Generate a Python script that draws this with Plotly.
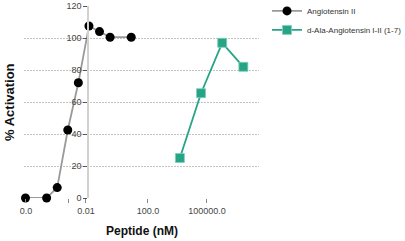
import plotly.graph_objects as go

ang2_x = [-5.0, -4.0, -3.5, -3.0, -2.5, -2.0, -1.5, -1.0, 0.0]
ang2_y = [0.0, 0.0, 6.5, 42.5, 72.0, 107.5, 104.0, 100.5, 100.5]
dala_x = [2.3, 3.3, 4.3, 5.3]
dala_y = [25.0, 65.5, 97.0, 82.0]

tick_vals = [-4.98, -2.95, -2.14, 0.79, 3.58]
tick_text = ["0.0", "", "0.01", "100.0", "100000.0"]
y_ticks = [0, 20, 40, 60, 80, 100, 120]

FONT = "Liberation Sans, Arial, sans-serif"

fig = go.Figure()
fig.add_trace(go.Scatter(
    x=ang2_x, y=ang2_y, mode="lines+markers", name="Angiotensin II",
    line=dict(color="#9a9a9a", width=1.8),
    marker=dict(color="black", size=9, symbol="circle", line=dict(width=0)),
    cliponaxis=False,
))
fig.add_trace(go.Scatter(
    x=dala_x, y=dala_y, mode="lines+markers", name="d-Ala-Angiotensin I-II (1-7)",
    line=dict(color="#27a386", width=1.8),
    marker=dict(color="#27a386", size=9, symbol="square", line=dict(width=0.8, color="#7fd0bb")),
    cliponaxis=False,
))

L, R = 24, 259
W = R - L
fig.update_layout(
    width=405, height=241,
    margin=dict(l=L, r=405 - R, t=6, b=43, autoexpand=False),
    paper_bgcolor="white", plot_bgcolor="white",
    font=dict(family=FONT, size=9, color="#333333"),
    showlegend=True,
    legend=dict(
        x=(267 - L) / W, y=1.05, xanchor="left", yanchor="top",
        font=dict(family=FONT, size=8, color="#333333"),
        bgcolor="rgba(0,0,0,0)", tracegroupgap=0, itemwidth=30,
    ),
    xaxis=dict(
        range=[-5.07, 6.04], showgrid=False, zeroline=False, showline=False,
        tickmode="array", tickvals=tick_vals, ticktext=tick_text,
        ticks="outside", ticklen=4, tickcolor="#888888", tickwidth=1,
        tickfont=dict(family=FONT, size=9, color="#444444"),
    ),
    yaxis=dict(
        range=[0, 120], anchor="free", position=(88 - L) / W,
        showgrid=True, gridcolor="#c4c4c4", griddash="2px,1px", gridwidth=0.8,
        zeroline=False, showline=True, linecolor="#d2d2d2", linewidth=1.5,
        tickmode="array", tickvals=y_ticks,
        ticks="outside", ticklen=4, tickcolor="#555555",
        tickfont=dict(family=FONT, size=9, color="#444444"),
        automargin=False,
    ),
)

fig.add_annotation(
    text="% Activation", x=(9 - L) / W, xref="paper", y=0.5, yref="paper",
    showarrow=False, textangle=-90, font=dict(family=FONT, size=13, color="#111111", weight="bold"),
    xanchor="center", yanchor="middle",
)
fig.add_annotation(
    text="Peptide (nM)", x=0.5, xref="paper", y=-0.125, yref="paper",
    showarrow=False, font=dict(family=FONT, size=12, color="#111111", weight="bold"),
    xanchor="center", yanchor="top",
)

fig.write_html("out.html")
